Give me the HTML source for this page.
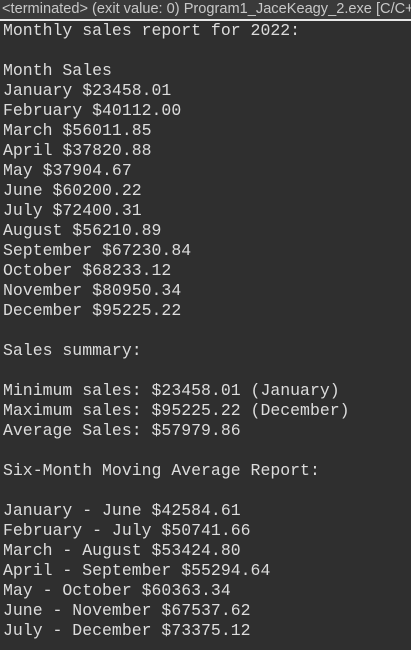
<!DOCTYPE html>
<html><head><meta charset="utf-8"><style>
html,body{margin:0;padding:0;width:411px;height:650px;overflow:hidden;background:#2f2f2f;}
#hdr{position:absolute;left:0;top:0;width:411px;height:19px;overflow:hidden;background:#3a3a3a;color:#c8c8c8;font-family:"Liberation Sans",sans-serif;font-size:14.6px;line-height:19px;padding-left:2px;white-space:nowrap;box-sizing:border-box;}
#sep{position:absolute;left:0;top:19px;width:411px;height:2px;background:#e8e8e8;}
#out{position:absolute;left:3px;top:21px;margin:0;font-family:"Liberation Mono",monospace;font-size:16.5px;line-height:20px;color:#dcdcdc;white-space:pre;}
</style></head><body>
<div id="hdr">&lt;terminated&gt; (exit value: 0) Program1_JaceKeagy_2.exe [C/C+</div>
<div id="sep"></div>
<pre id="out">Monthly sales report for 2022:

Month Sales
January $23458.01
February $40112.00
March $56011.85
April $37820.88
May $37904.67
June $60200.22
July $72400.31
August $56210.89
September $67230.84
October $68233.12
November $80950.34
December $95225.22

Sales summary:

Minimum sales: $23458.01 (January)
Maximum sales: $95225.22 (December)
Average Sales: $57979.86

Six-Month Moving Average Report:

January - June $42584.61
February - July $50741.66
March - August $53424.80
April - September $55294.64
May - October $60363.34
June - November $67537.62
July - December $73375.12</pre>
</body></html>
